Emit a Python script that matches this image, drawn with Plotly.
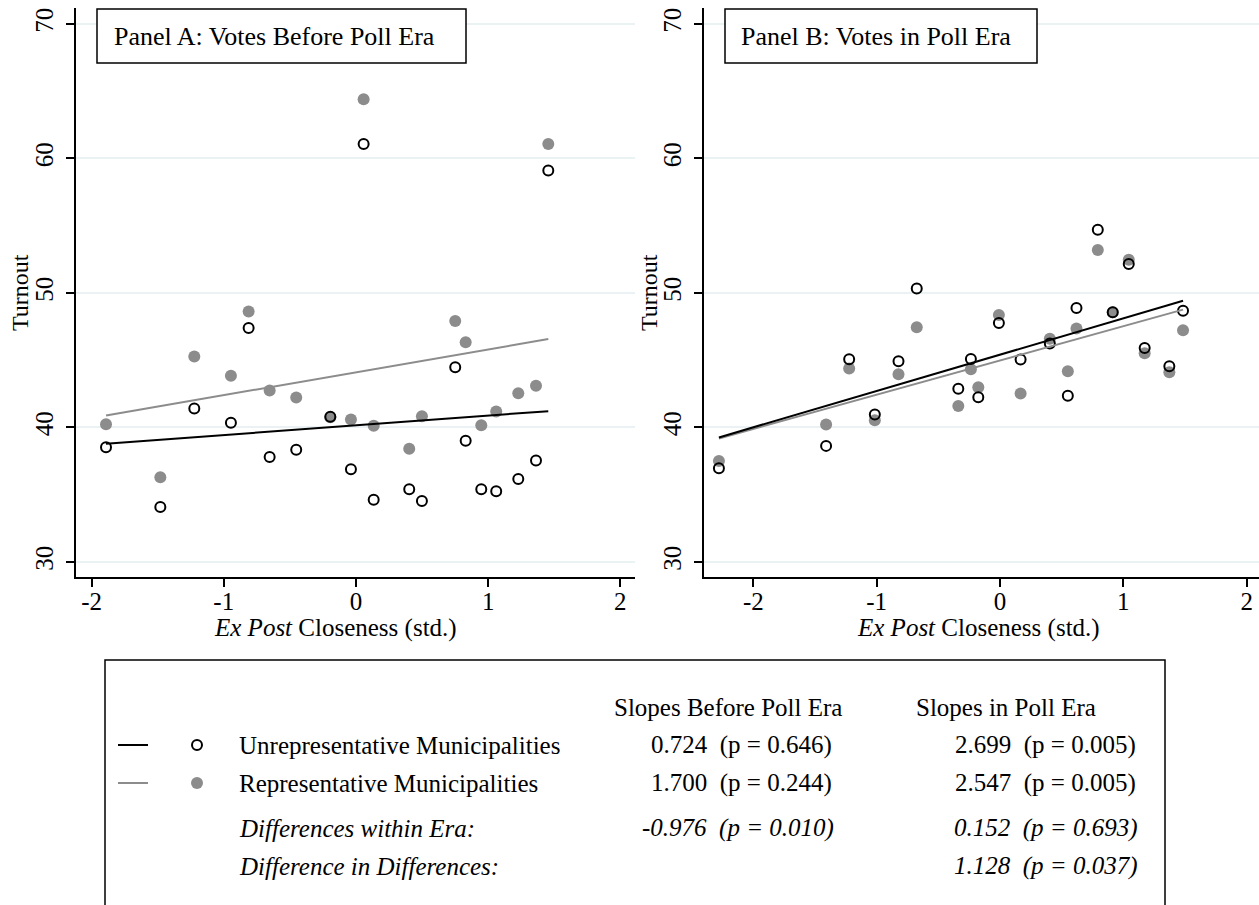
import plotly.graph_objects as go

W, H = 1259, 905

# ---------------- data ----------------
# Panel A: votes before poll era
a_x = [-1.891, -1.480, -1.223, -0.946, -0.812, -0.653, -0.452, -0.194, -0.038, 0.058,
       0.134, 0.403, 0.499, 0.751, 0.830, 0.948, 1.061, 1.228, 1.362, 1.455]
a_unrep = [38.52, 34.08, 41.41, 40.35, 47.40, 37.80, 38.34, 40.80, 36.90, 61.08,
           34.63, 35.40, 34.53, 44.48, 39.01, 35.40, 35.25, 36.16, 37.55, 59.10]
a_rep = [40.24, 36.29, 45.27, 43.84, 48.63, 42.75, 42.23, 40.75, 40.60, 64.40,
         40.13, 38.42, 40.84, 47.92, 46.33, 40.17, 41.19, 42.55, 43.10, 61.08]

# Panel B: votes in poll era
b_x = [-2.279, -1.410, -1.223, -1.015, -0.823, -0.675, -0.338, -0.236, -0.176, -0.009,
       0.167, 0.404, 0.550, 0.620, 0.793, 0.914, 1.044, 1.173, 1.373, 1.484]
b_unrep = [36.96, 38.63, 45.07, 40.96, 44.92, 50.34, 42.87, 45.09, 42.25, 47.77,
           45.05, 46.24, 42.35, 48.88, 54.70, 48.56, 52.15, 45.91, 44.55, 48.68]
b_rep = [37.50, 40.22, 44.38, 40.54, 43.96, 47.45, 41.60, 44.33, 42.99, 48.36,
         42.52, 46.60, 44.18, 47.35, 53.19, 48.56, 52.47, 45.51, 44.10, 47.22]

# fitted lines (unrepresentative, representative)
slopes_before = [0.724, 1.700]
p_before = [0.646, 0.244]
icpt_before = [40.16, 44.10]
slopes_poll = [2.699, 2.547]
p_poll = [0.005, 0.005]
icpt_poll = [45.41, 44.98]
diff_within = [-0.976, 0.152]
p_diff_within = [0.010, 0.693]
did = 1.128
p_did = 0.037

x_ticks = [-2, -1, 0, 1, 2]
x_ticktext = ["-2", "-1", "0", "1", "2"]
y_ticks = [30, 40, 50, 60, 70]

panel_titles = ["Panel A: Votes Before Poll Era", "Panel B: Votes in Poll Era"]
series_names = ["Unrepresentative Municipalities", "Representative Municipalities"]
col_headers = ["Slopes Before Poll Era", "Slopes in Poll Era"]
row_labels = ["Differences within Era:", "Difference in Differences:"]

# ---------------- style ----------------
FONT = "Liberation Serif"
BLACK = "#000000"
GRAY = "#8c8c8c"
GRID = "#eaf2f3"


def px(x):
    return x / W


def py(y):
    return 1 - y / H


fig = go.Figure()

panels = [
    ("x", "y", a_x, a_unrep, a_rep, slopes_before, icpt_before),
    ("x2", "y2", b_x, b_unrep, b_rep, slopes_poll, icpt_poll),
]
for xa, ya, xs, un, rep, sl, ic in panels:
    fig.add_trace(go.Scatter(x=xs, y=rep, mode="markers", xaxis=xa, yaxis=ya,
                             marker=dict(color=GRAY, size=12, line=dict(width=0)),
                             showlegend=False))
    fig.add_trace(go.Scatter(x=xs, y=un, mode="markers", xaxis=xa, yaxis=ya,
                             marker=dict(color="rgba(0,0,0,0)", size=10,
                                         line=dict(color=BLACK, width=2)),
                             showlegend=False))
    lo, hi = min(xs), max(xs)
    fig.add_trace(go.Scatter(x=[lo, hi], y=[ic[1] + sl[1] * lo, ic[1] + sl[1] * hi],
                             mode="lines", xaxis=xa, yaxis=ya,
                             line=dict(color=GRAY, width=2), showlegend=False))
    fig.add_trace(go.Scatter(x=[lo, hi], y=[ic[0] + sl[0] * lo, ic[0] + sl[0] * hi],
                             mode="lines", xaxis=xa, yaxis=ya,
                             line=dict(color=BLACK, width=2), showlegend=False))

ydom = [py(577), py(8)]
axis_common = dict(showline=True, linecolor=BLACK, linewidth=1.5, ticks="outside",
                   ticklen=8, tickwidth=1.5, tickcolor=BLACK, zeroline=False,
                   tickfont=dict(family=FONT, size=25, color=BLACK))
xcommon = dict(axis_common, tickvals=x_ticks, ticktext=x_ticktext, showgrid=False,
               ticklabelstandoff=-7)
ycommon = dict(axis_common, tickvals=y_ticks, showgrid=True, gridcolor=GRID,
               gridwidth=1.5, range=[28.88, 71.19], tickangle=-90, domain=ydom,
               ticklabelstandoff=3)

fig.update_layout(
    width=W, height=H, margin=dict(l=0, r=0, t=0, b=0),
    paper_bgcolor="white", plot_bgcolor="white", showlegend=False,
    xaxis=dict(xcommon, domain=[px(76), px(635)], range=[-2.118, 2.111], anchor="y"),
    yaxis=dict(ycommon, anchor="x"),
    xaxis2=dict(xcommon, domain=[px(704), 1.0], range=[-2.40, 2.10], anchor="y2"),
    yaxis2=dict(ycommon, anchor="x2"),
)

shapes = []
ann = []

# panel title boxes
for (x0, x1, tx), title in zip([(97, 466, 112), (725, 1037, 739)], panel_titles):
    shapes.append(dict(type="rect", xref="paper", yref="paper", x0=px(x0), x1=px(x1),
                       y0=py(63), y1=py(9), line=dict(color=BLACK, width=1.5),
                       fillcolor="white", layer="above"))
    ann.append(dict(text=title, xref="paper", yref="paper", x=px(tx), y=py(36),
                    xanchor="left", yanchor="middle", showarrow=False,
                    font=dict(family=FONT, size=26, color=BLACK)))

# axis titles
for cx in (336, 978):
    ann.append(dict(text="<i>Ex Post</i> Closeness (std.)", xref="paper", yref="paper",
                    x=px(cx), y=py(628), xanchor="center", yanchor="middle",
                    showarrow=False, font=dict(family=FONT, size=25, color=BLACK)))
for cx in (20, 649):
    ann.append(dict(text="Turnout", xref="paper", yref="paper", x=px(cx), y=py(293),
                    xanchor="center", yanchor="middle", textangle=-90,
                    showarrow=False, font=dict(family=FONT, size=24, color=BLACK)))

# legend / results box
shapes.append(dict(type="path", xref="paper", yref="paper",
                   path=f"M {px(105)} {py(915)} L {px(105)} {py(660)} L {px(1165)} {py(660)} L {px(1165)} {py(915)}",
                   line=dict(color=BLACK, width=1.5)))
LF = dict(family=FONT, size=25, color=BLACK)
for cx, h in zip((612, 914), col_headers):
    ann.append(dict(text=h, xref="paper", yref="paper", x=px(cx), y=py(707),
                    xanchor="left", yanchor="middle", showarrow=False, font=LF))
row_y = [745, 783]
colors = [BLACK, GRAY]
for i in range(2):
    yy = row_y[i]
    shapes.append(dict(type="line", xref="paper", yref="paper", x0=px(118), x1=px(148),
                       y0=py(yy), y1=py(yy), line=dict(color=colors[i], width=2)))
    if i == 0:
        shapes.append(dict(type="circle", xref="paper", yref="paper",
                           x0=px(192), x1=px(202), y0=py(yy + 5), y1=py(yy - 5),
                           line=dict(color=BLACK, width=2), fillcolor="white"))
    else:
        shapes.append(dict(type="circle", xref="paper", yref="paper",
                           x0=px(191), x1=px(203), y0=py(yy + 6), y1=py(yy - 6),
                           line=dict(width=0), fillcolor=GRAY))
    ann.append(dict(text=series_names[i], xref="paper", yref="paper", x=px(237), y=py(yy),
                    xanchor="left", yanchor="middle", showarrow=False, font=LF))
    ann.append(dict(text=f"{slopes_before[i]:.3f}\u00a0\u00a0(p = {p_before[i]:.3f})",
                    xref="paper", yref="paper", x=px(834), y=py(yy),
                    xanchor="right", yanchor="middle", showarrow=False, font=LF))
    ann.append(dict(text=f"{slopes_poll[i]:.3f}\u00a0\u00a0(p = {p_poll[i]:.3f})",
                    xref="paper", yref="paper", x=px(1138), y=py(yy),
                    xanchor="right", yanchor="middle", showarrow=False, font=LF))

for lab, yy in zip(row_labels, (828, 866)):
    ann.append(dict(text=f"<i>{lab}</i>", xref="paper", yref="paper", x=px(237), y=py(yy),
                    xanchor="left", yanchor="middle", showarrow=False, font=LF))
ann.append(dict(text=f"<i>{diff_within[0]:.3f}\u00a0\u00a0(p = {p_diff_within[0]:.3f})</i>",
                xref="paper", yref="paper", x=px(836), y=py(828),
                xanchor="right", yanchor="middle", showarrow=False, font=LF))
ann.append(dict(text=f"<i>{diff_within[1]:.3f}\u00a0\u00a0(p = {p_diff_within[1]:.3f})</i>",
                xref="paper", yref="paper", x=px(1140), y=py(828),
                xanchor="right", yanchor="middle", showarrow=False, font=LF))
ann.append(dict(text=f"<i>{did:.3f}\u00a0\u00a0(p = {p_did:.3f})</i>",
                xref="paper", yref="paper", x=px(1140), y=py(866),
                xanchor="right", yanchor="middle", showarrow=False, font=LF))

fig.update_layout(shapes=shapes, annotations=ann)
fig.write_html("out.html", config={"displayModeBar": False},
               post_script="document.body.style.margin='0';document.body.style.overflow='hidden';")
